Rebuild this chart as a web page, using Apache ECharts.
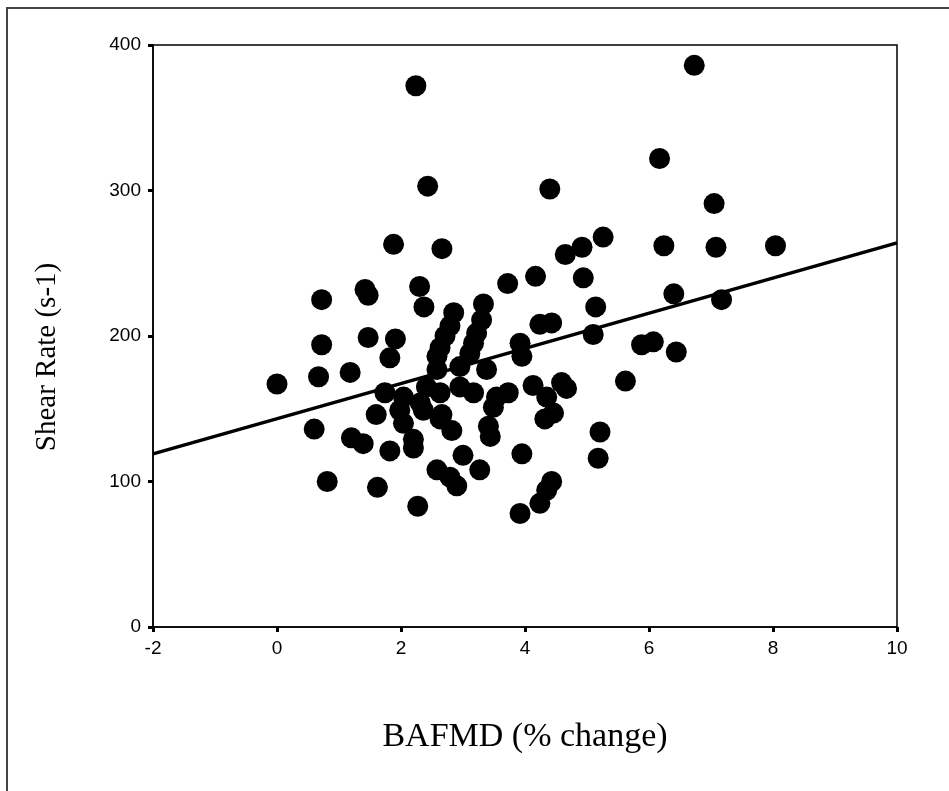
<!DOCTYPE html>
<html>
<head>
<meta charset="utf-8">
<script src="https://cdn.jsdelivr.net/npm/echarts@6/dist/echarts.min.js"></script>
<style>
html,body{margin:0;padding:0;background:#fff;}
#chart{width:949px;height:791px;}
</style>
</head>
<body>
<div id="chart"></div>
<script>
// BAFMD (% change) values
const xValues = [
  0.0, 0.6, 0.67, 0.72, 0.72, 0.81, 1.18, 1.2, 1.39, 1.42,
  1.47, 1.47, 1.62, 1.6, 1.82, 1.88, 1.91, 1.82, 1.74, 2.04,
  2.04, 1.98, 2.2, 2.2, 2.24, 2.27, 2.31, 2.36, 2.43, 2.3,
  2.37, 2.41, 2.58, 2.58, 2.63, 2.63, 2.66, 2.66, 2.63, 2.82,
  2.58, 2.79, 2.9, 2.71, 2.79, 2.85, 2.95, 2.95, 3.0, 3.17,
  3.11, 3.22, 3.3, 3.33, 3.38, 3.17, 3.27, 3.41, 3.44, 3.49,
  3.54, 3.73, 3.72, 3.92, 3.95, 3.95, 3.92, 4.13, 4.17, 4.24,
  4.43, 4.35, 4.46, 4.32, 4.59, 4.67, 4.40, 4.43, 4.35, 4.24,
  4.65, 4.92, 4.94, 5.1, 5.14, 5.26, 5.21, 5.18, 5.62, 5.88,
  6.07, 6.17, 6.24, 6.4, 6.44, 6.73, 7.05, 7.08, 7.17, 8.04
];
// Shear Rate (s-1) values
const yValues = [
  167, 136, 172, 194, 225, 100, 175, 130, 126, 232,
  228, 199, 96, 146, 185, 263, 198, 121, 161, 158,
  140, 149, 129, 123, 372, 83, 154, 149, 303, 234,
  220, 165, 186, 177, 192, 161, 260, 146, 143, 135,
  108, 103, 97, 200, 207, 216, 179, 165, 118, 195,
  188, 202, 211, 222, 177, 161, 108, 138, 131, 151,
  158, 161, 236, 195, 186, 119, 78, 166, 241, 208,
  209, 158, 147, 143, 168, 164, 301, 100, 94, 85,
  256, 261, 240, 201, 220, 268, 134, 116, 169, 194,
  196, 322, 262, 229, 189, 386, 291, 261, 225, 262
];
// Regression line end points
const fitX = [-2, 10];
const fitY = [119, 264];
// Axis ticks
const xTicks = [-2, 0, 2, 4, 6, 8, 10];
const yTicks = [0, 100, 200, 300, 400];
const xTitle = 'BAFMD (% change)';
const yTitle = 'Shear Rate (s-1)';

const points = xValues.map((x, i) => [x, yValues[i]]);
const fitLine = fitX.map((x, i) => [x, fitY[i]]);

const chart = echarts.init(document.getElementById('chart'), null, {renderer: 'canvas'});
const tickFont = {fontFamily: '"Liberation Sans Narrow", "Liberation Sans", Arial, sans-serif', fontSize: 19, color: '#000'};
const serif = '"Liberation Serif", "Times New Roman", serif';
chart.setOption({
  animation: false,
  backgroundColor: '#fff',
  graphic: [{
    type: 'rect',
    shape: {x: 7, y: 8, width: 1000, height: 1000},
    style: {fill: 'none', stroke: '#444', lineWidth: 2},
    silent: true
  }, {
    type: 'text',
    x: 47, y: 357,
    rotation: Math.PI / 2,
    style: {text: yTitle, font: '29px ' + serif, fill: '#000', align: 'center', verticalAlign: 'middle'},
    silent: true
  }],
  grid: {
    left: 153, top: 45, right: 52, bottom: 164,
    show: true, borderColor: '#000', borderWidth: 1.5
  },
  xAxis: {
    type: 'value',
    min: xTicks[0], max: xTicks[xTicks.length - 1], interval: 2,
    name: xTitle,
    nameLocation: 'middle',
    nameGap: 93,
    nameTextStyle: {fontFamily: serif, fontSize: 34, color: '#000'},
    axisLine: {show: true, onZero: false, lineStyle: {color: '#000', width: 1.5}},
    axisTick: {show: true, length: 5, lineStyle: {color: '#000', width: 3}},
    axisLabel: Object.assign({margin: 12}, tickFont),
    splitLine: {show: false}
  },
  yAxis: {
    type: 'value',
    min: yTicks[0], max: yTicks[yTicks.length - 1], interval: 100,
    axisLine: {show: true, onZero: false, lineStyle: {color: '#000', width: 1.5}},
    axisTick: {show: true, length: 5, lineStyle: {color: '#000', width: 3}},
    axisLabel: Object.assign({margin: 12}, tickFont),
    splitLine: {show: false}
  },
  series: [{
    type: 'scatter',
    data: points,
    symbol: 'circle',
    symbolSize: 21,
    itemStyle: {color: '#000', opacity: 1},
    z: 3
  }, {
    type: 'line',
    data: fitLine,
    symbol: 'none',
    lineStyle: {color: '#000', width: 3.5},
    z: 4
  }]
});
</script>
</body>
</html>
